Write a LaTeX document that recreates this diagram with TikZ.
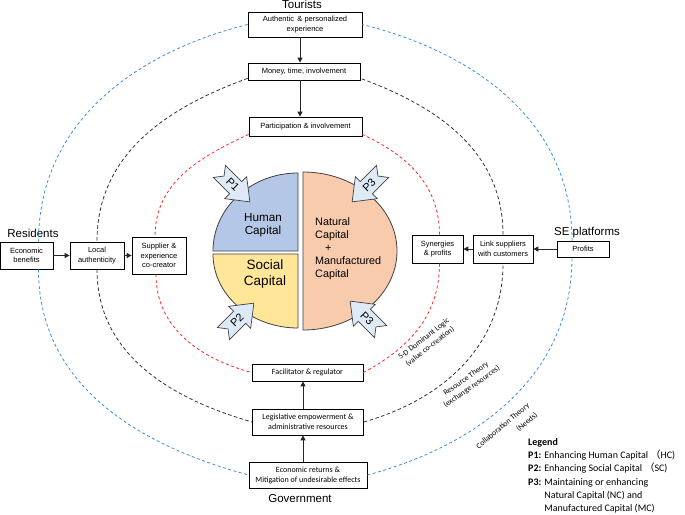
\documentclass[tikz,border=0pt]{standalone}
\usepackage{fontspec}
\setmainfont{Liberation Sans}
\newfontfamily\calib{Carlito}
\newfontfamily\cjkf{Noto Sans CJK SC}
\usetikzlibrary{arrows.meta}
\definecolor{ringblue}{HTML}{3B8EDB}
\definecolor{ringred}{HTML}{FF2A2A}
\definecolor{ringblack}{HTML}{333333}
\definecolor{hcfill}{HTML}{B4C7E7}
\definecolor{scfill}{HTML}{FFE699}
\definecolor{ncfill}{HTML}{F8CBAD}
\definecolor{pfill}{HTML}{DEEBF7}
\definecolor{edgec}{HTML}{404040}
\tikzset{
  box/.style={draw=black, fill=white, line width=0.75pt, align=center, inner sep=1pt,
              font=\fontsize{7.5}{9.5}\selectfont},
  cbox/.style={box, font=\calib\fontsize{8}{10}\selectfont},
  lab/.style={font=\fontsize{11.5}{13}\selectfont, inner sep=0pt},
  flow/.style={draw=black!85, line width=1pt, -{Triangle[length=5pt,width=5pt]}},
  rb/.style={draw=ringblue, line width=0.8pt, dash pattern=on 3pt off 2.5pt},
  rk/.style={draw=ringblack, line width=0.8pt, dash pattern=on 3.5pt off 2.5pt},
  rr/.style={draw=ringred, line width=0.8pt, dash pattern=on 3pt off 2.5pt},
  piece/.style={draw=edgec, line width=0.8pt},
  parr/.style={draw=edgec, fill=pfill, line width=0.7pt, line join=miter},
  plab/.style={transform shape, inner sep=0pt, font=\fontsize{11}{11}\selectfont},
  theory/.style={font=\calib\fontsize{7.8}{10}\selectfont, align=center, inner sep=0pt},
  pics/parrowR/.style={code={
    \draw[parr] (-22pt,-8.5pt) -- (1pt,-8.5pt) -- (1pt,-15.5pt) -- (21pt,0pt) -- (1pt,15.5pt)
      -- (1pt,8.5pt) -- (-22pt,8.5pt) -- (-15.5pt,0pt) -- cycle;
    \node[plab] (-t) at (-3pt,0pt) {#1};}},
  pics/parrowL/.style={code={
    \draw[parr] (22pt,-8.5pt) -- (-1pt,-8.5pt) -- (-1pt,-15.5pt) -- (-21pt,0pt) -- (-1pt,15.5pt)
      -- (-1pt,8.5pt) -- (22pt,8.5pt) -- (15.5pt,0pt) -- cycle;
    \node[plab] (-t) at (3pt,0pt) {#1};}},
}
\begin{document}
\begin{tikzpicture}[x=1pt,y=-1pt]
\useasboundingbox (0,0) rectangle (685,514);

% ---- capital pie ----
\draw[piece, fill=hcfill] (298,251) -- (298,173)
  arc[start angle=90, end angle=180, x radius=85pt, y radius=78pt] -- cycle;
\draw[piece, fill=scfill] (298,254) -- (213,254)
  arc[start angle=180, end angle=270, x radius=85pt, y radius=74pt] -- cycle;
\draw[piece, fill=ncfill] (303,172)
  arc[start angle=90, end angle=-90, x radius=94pt, y radius=79pt] -- cycle;
\node[font=\fontsize{11.7}{13}\selectfont, align=center] (hc) at (263,225) {Human\\Capital};
\node[font=\fontsize{13.5}{16}\selectfont, align=center] (sc) at (265,274) {Social\\Capital};
\node[font=\fontsize{10.8}{13}\selectfont, align=left, anchor=west, inner sep=0pt] (nc) at (315,249)
  {Natural\\Capital\\\hspace{10pt}+\\Manufactured\\Capital};

\pic (p1) [rotate=-45] at (235,187) {parrowR=P1};
\pic (p3a) [rotate=45] at (367,187) {parrowL=P3};
\pic (p2) [rotate=45] at (239,318) {parrowR=P2};
\pic (p3b) [rotate=-45] at (365,316) {parrowL=P3};

% ---- boxes ----
\node[box, minimum width=114pt, minimum height=25pt] (A) at (305,24.5) {Authentic \,\& personalized\\experience};
\node[box, minimum width=112pt, minimum height=17pt] (B) at (304,71.5) {Money, time, involvement};
\node[box, minimum width=113pt, minimum height=19pt] (C) at (305.5,126.5) {Participation \& involvement};
\node[box, minimum width=53pt, minimum height=27pt] (Eb) at (26.5,255.5) {Economic\\benefits};
\node[box, minimum width=54pt, minimum height=27pt] (La) at (97,255.5) {Local\\authenticity};
\node[box, minimum width=54pt, minimum height=37pt] (Su) at (159,255.5) {Supplier \&\\experience\\co-creator};
\node[box, minimum width=52pt, minimum height=16pt] (Pr) at (583,249) {Profits};
\node[box, minimum width=60pt, minimum height=28pt] (Lk) at (503,249) {Link suppliers\\with customers};
\node[box, minimum width=51pt, minimum height=28pt] (Sy) at (437.5,249) {Synergies\\\& profits};
\node[cbox, minimum width=111pt, minimum height=17pt] (F) at (307.5,372.5) {Facilitator \& regulator};
\node[cbox, minimum width=111pt, minimum height=26pt] (L) at (308,422) {Legislative empowerment \&\\administrative resources};
\node[cbox, minimum width=118pt, minimum height=26pt] (R) at (308,475) {Economic returns \&\\Mitigation of undesirable effects};

% ---- actor labels ----
\node[lab, anchor=base] (tour) at (302,9) {Tourists};
\node[lab, anchor=base] (res) at (33,237) {Residents};
\node[lab, anchor=base] (gov) at (300,502) {Government};
\node[lab, anchor=base] (se) at (587,235) {SE platforms};

% ---- rings ----
\draw[rb] (A.west) to[out=194,in=90] ([xshift=12pt]Eb.north);
\draw[rb] ([xshift=12pt]Eb.south) to[out=-90,in=165] (R.west);
\draw[rb] (R.east) to[out=15,in=-90] ([xshift=-11pt]Pr.south);
\draw[rb] ([xshift=-11pt]Pr.north) to[out=90,in=-14] (A.east);

\draw[rk] ([yshift=2pt]B.south west) to[out=200,in=90] (La.north);
\draw[rk] (La.south) to[out=-90,in=164] (L.west);
\draw[rk] (L.east) to[out=16,in=-90] (Lk.south);
\draw[rk] (Lk.north) to[out=90,in=-20] ([yshift=2pt]B.south east);

\draw[rr] ([yshift=2pt]C.south west) to[out=205,in=90] ([xshift=-4pt]Su.north);
\draw[rr] ([xshift=-3pt]Su.south) to[out=-90,in=165] (F.west);
\draw[rr] (F.east) to[out=28,in=-90] ([xshift=2pt]Sy.south);
\draw[rr] ([xshift=2pt]Sy.north) to[out=90,in=-25] ([yshift=2pt]C.south east);

% ---- flows ----
\draw[flow] ([xshift=-5pt]A.south) -- ([xshift=-4pt]B.north);
\draw[flow] ([xshift=-4pt]B.south) -- ([xshift=-5.5pt]C.north);
\draw[flow] (Eb.east) -- (La.west);
\draw[flow] (La.east) -- (Su.west);
\draw[flow] (Pr.west) -- (Lk.east);
\draw[flow] (Lk.west) -- (Sy.east);
\draw[flow] ([xshift=-5pt]R.north) -- ([xshift=-5pt]L.south);
\draw[flow] ([xshift=-5pt]L.north) -- ([xshift=-4.5pt]F.south);

% ---- theory labels ----
\node[theory, rotate=38] (t1) at (427,343) {5-D Dominant Logic\\(value co-creation)};
\node[theory, rotate=35] (t2) at (469,383) {Resource Theory\\(exchange resources)};
\node[theory, rotate=40, align=right] (t3) at (507,431) {Collaboration Theory\\[2.5pt](Needs)\hspace{7pt}};

% ---- legend ----
\node[anchor=north west, inner sep=0pt, font=\calib\fontsize{10}{13.2}\selectfont] (leg) at (528,436)
{\begin{tabular}{@{}l@{\hspace{3pt}}l@{}}
\multicolumn{2}{@{}l@{}}{\textbf{Legend}}\\
\textbf{P1:} & Enhancing Human Capital\ {\cjkf （}HC)\\
\textbf{P2:} & Enhancing Social Capital\ {\cjkf （}SC)\\
\textbf{P3:} & Maintaining or enhancing\\
 & Natural Capital (NC) and\\
 & Manufactured Capital (MC)
\end{tabular}};
\end{tikzpicture}
\end{document}
